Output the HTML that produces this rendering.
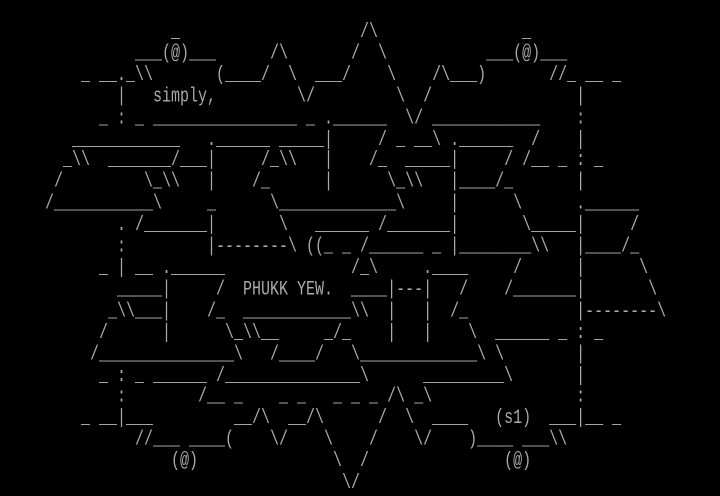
<!DOCTYPE html>
<html><head><meta charset="utf-8"><style>
html,body{margin:0;padding:0;background:#000;width:720px;height:496px;overflow:hidden}
pre{position:absolute;left:0;top:22px;margin:0;font-family:"Liberation Mono",monospace;font-size:15px;line-height:15.9px;color:#aaaaaa;transform:scaleY(1.35);transform-origin:0 0;white-space:pre}
</style></head><body><pre>                   _                    /\                _
               ___(@)___      /\       /  \           ___(@)___
         _ __._\\       (____/  \  ___/    \    /\___)       //_ __ _
             |   simply,         \/         \  /                |
           _ : _ ________________ _ .______  \/ ____________    :
        ____________   .______ _____|     / _ __\ .______  /    |
       _\\  _______/___|     /_\\   |    /_  _____|     / /__ _ : _
      /         \_\\   |    /_      |      \_\\   |____/_       |
     /___________\     _      \_____________\     |      \      .______
             . /_______|       \   ______ /_______|       \_____|     /
             :         |--------\ ((_ _ /______ _ |________\\   |____/_
           _ | __ .______              /_\     .____     /      |      \
             _____|     /  PHUKK YEW.  ____|---|   /    /_______|       \
            _\\___|    /_  ____________\\  |   |  /_            |--------\
           /      |      \_\\__     _/_    |   |    \  ______ _ : _
          /_______________\   /____/   \_____________\ \        |
           _ : _ ______ /_______________\      _________\       |
             :        /__ _    _ _   _ _ _ /\ _\                :
         _ __|___         __/\  __/\      /  \  ____   (s1)  ___|__ _
               //___ ____(    \/    \    /    \/    )____ ___\\
                   (@)               \  /               (@)
                                      \/
</pre></body></html>
